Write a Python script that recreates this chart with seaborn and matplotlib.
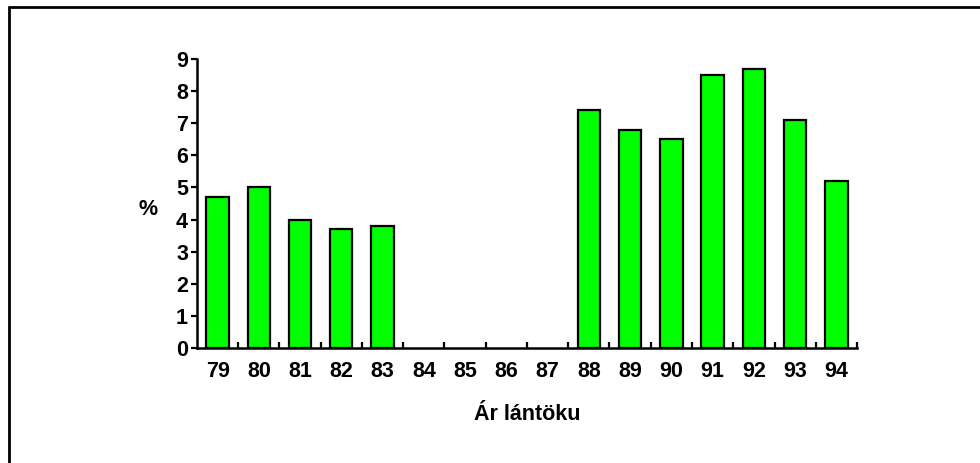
import numpy as np
import pandas as pd
import matplotlib
matplotlib.use('Agg')
import matplotlib.pyplot as plt
from matplotlib.lines import Line2D
import seaborn as sns

# data (84-87 have no bar)
years = ['79', '80', '81', '82', '83', '84', '85', '86', '87',
         '88', '89', '90', '91', '92', '93', '94']
values = [4.7, 5.0, 4.0, 3.7, 3.8, np.nan, np.nan, np.nan, np.nan,
          7.4, 6.8, 6.5, 8.5, 8.7, 7.1, 5.2]
y_ticks = [0, 1, 2, 3, 4, 5, 6, 7, 8, 9]

df = pd.DataFrame({'year': years, 'pct': values})

sns.set_style('white')
plt.rcParams['font.family'] = ['Liberation Sans', 'DejaVu Sans']
plt.rcParams['font.weight'] = 'bold'
plt.rcParams['text.color'] = 'black'
plt.rcParams['axes.labelcolor'] = 'black'
plt.rcParams['xtick.color'] = 'black'
plt.rcParams['ytick.color'] = 'black'

fig = plt.figure(figsize=(9.8, 4.63), dpi=100)
ax = fig.add_axes([0.201, 0.2484, 0.6735, 0.6242])

sns.barplot(data=df.dropna(), x='year', y='pct', order=years,
            color='#00ff00', saturation=1, width=0.54,
            edgecolor='black', linewidth=1.6, ax=ax)

ax.set_xlim(-0.5, len(years) - 0.5)
ax.set_ylim(0, 9)
ax.set_yticks(y_ticks)
ax.set_yticklabels([str(t) for t in y_ticks], fontsize=15.5, fontweight='bold')
ax.set_xticks(range(len(years)))
ax.set_xticklabels(years, fontsize=15.5, fontweight='bold')

# tick marks sit between the categories, pointing up
ax.set_xticks(np.arange(0.5, len(years), 1.0), minor=True)
ax.tick_params(axis='x', which='major', bottom=True, length=0, pad=9.5)
ax.tick_params(axis='x', which='minor', bottom=True, direction='in', length=4.5,
               width=1.6, color='black')
ax.tick_params(axis='y', which='major', direction='out', length=4.5, width=1.6,
               color='black', pad=2, left=True)

for side in ['top', 'right']:
    ax.spines[side].set_visible(False)
for side in ['left', 'bottom']:
    ax.spines[side].set_color('black')
    ax.spines[side].set_linewidth(1.8)

ax.set_xlabel('Ár lántöku', fontsize=15.5, fontweight='bold', va='center')
ax.xaxis.set_label_coords(0.5, -0.23)
ax.set_ylabel('%', fontsize=15.5, fontweight='bold', rotation=0, ha='center', va='center')
ax.yaxis.set_label_coords(-0.074, 0.48)

# frame lines at the top and left of the picture
fig.add_artist(Line2D([0.0087, 0.0087], [0.0, 0.984], color='black', lw=2.0))
fig.add_artist(Line2D([0.0087, 1.0], [0.984, 0.984], color='black', lw=2.0))

fig.savefig('out.png', dpi=100, facecolor='white')
